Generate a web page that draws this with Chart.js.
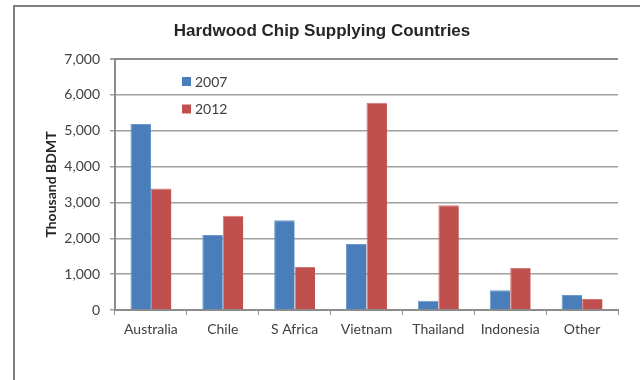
<!DOCTYPE html>
<html>
<head>
<meta charset="utf-8">
<title>Hardwood Chip Supplying Countries</title>
<script src="https://cdn.jsdelivr.net/npm/chart.js@4/dist/chart.umd.min.js"></script>
<style>
  html, body { margin: 0; padding: 0; background: #ffffff; }
  #wrap { position: relative; width: 640px; height: 380px; overflow: hidden; }
  canvas { display: block; }
</style>
</head>
<body>
<div id="wrap"><canvas id="chart" width="640" height="380"></canvas></div>
<script>
// Supplying countries and volumes (thousand bone-dry metric tonnes)
const countries = ['Australia', 'Chile', 'S Africa', 'Vietnam', 'Thailand', 'Indonesia', 'Other'];
const seriesNames = ['2007', '2012'];
const volumes2007 = [5190, 2090, 2500, 1840, 260, 550, 420];
const volumes2012 = [3390, 2630, 1200, 5780, 2920, 1170, 310];
const yTicks = [0, 1000, 2000, 3000, 4000, 5000, 6000, 7000];

const BLUE = '#4a7ebb';
const RED = '#c0504d';
const TEXT = '#404040';
const AXIS = '#8c8c8c';

// Outer frame of the chart object (runs past the right and bottom edges)
const framePlugin = {
  id: 'frame',
  beforeDraw(chart) {
    const ctx = chart.ctx;
    ctx.save();
    ctx.strokeStyle = '#7f7f7f';
    ctx.lineWidth = 2;
    ctx.beginPath();
    ctx.moveTo(14, chart.height + 2);
    ctx.lineTo(14, 6);
    ctx.lineTo(chart.width + 2, 6);
    ctx.stroke();
    ctx.restore();
  }
};

// Legend drawn inside the plot area, one entry per row
const insideLegend = {
  id: 'insideLegend',
  afterDraw(chart) {
    const ctx = chart.ctx;
    const area = chart.chartArea;
    const x0 = area.left + 67;
    const y0 = area.top + 22.5;
    const rowGap = 27.5;
    ctx.save();
    ctx.font = '14px Lato';
    ctx.textBaseline = 'middle';
    ctx.textAlign = 'left';
    chart.data.datasets.forEach((ds, i) => {
      const cy = y0 + i * rowGap;
      ctx.fillStyle = ds.backgroundColor;
      ctx.fillRect(x0, cy - 4.5, 9, 9);
      ctx.fillStyle = TEXT;
      ctx.fillText(ds.label, x0 + 13, cy + 0.5);
    });
    ctx.restore();
  }
};

new Chart(document.getElementById('chart'), {
  type: 'bar',
  data: {
    labels: countries,
    datasets: [
      { label: seriesNames[0], data: volumes2007, backgroundColor: BLUE, borderColor: '#6f98c9', borderWidth: { left: 1, right: 0, top: 1, bottom: 0 } },
      { label: seriesNames[1], data: volumes2012, backgroundColor: RED, borderColor: '#d27a77', borderWidth: { left: 1, right: 0, top: 1, bottom: 0 } }
    ]
  },
  options: {
    responsive: false,
    devicePixelRatio: 1,
    animation: false,
    layout: { padding: { left: 26, right: 22, top: 0, bottom: 0 } },
    datasets: { bar: { categoryPercentage: 0.57, barPercentage: 1.0 } },
    plugins: {
      legend: { display: false },
      tooltip: { enabled: false },
      title: {
        display: true,
        text: 'Hardwood Chip Supplying Countries',
        color: '#262626',
        font: { family: 'Liberation Sans', size: 17, weight: 'bold' },
        padding: { top: 21, bottom: 17.6 }
      }
    },
    scales: {
      x: {
        afterFit(scale) { scale.height = 70; },
        grid: {
          offset: true,
          drawOnChartArea: false,
          drawTicks: true,
          tickLength: 5,
          color: AXIS,
          lineWidth: 1
        },
        border: { display: true, color: AXIS, width: 2 },
        ticks: {
          color: TEXT,
          font: { family: 'Lato', size: 14 },
          padding: 6,
          maxRotation: 0,
          autoSkip: false
        }
      },
      y: {
        min: 0,
        max: 7000,
        afterFit(scale) { scale.width = 89; },
        afterBuildTicks(scale) { scale.ticks = yTicks.map(v => ({ value: v })); },
        grid: {
          color: (c) => (c.tick && c.tick.value === 7000 ? '#8c8c8c' : '#a0a0a0'),
          lineWidth: (c) => (c.tick && c.tick.value === 7000 ? 2 : 1.5),
          drawTicks: true,
          tickLength: 5,
          tickColor: '#a0a0a0'
        },
        border: { display: true, color: AXIS, width: 2 },
        ticks: {
          color: TEXT,
          font: { family: 'Lato', size: 14 },
          padding: 10,
          callback: (v) => Number(v).toLocaleString('en-US')
        },
        title: {
          display: true,
          text: 'Thousand BDMT',
          color: '#262626',
          font: { family: 'Lato', size: 14, weight: 'bold' },
          padding: { top: 17, bottom: 0 }
        }
      }
    }
  },
  plugins: [framePlugin, insideLegend]
});
</script>
</body>
</html>
